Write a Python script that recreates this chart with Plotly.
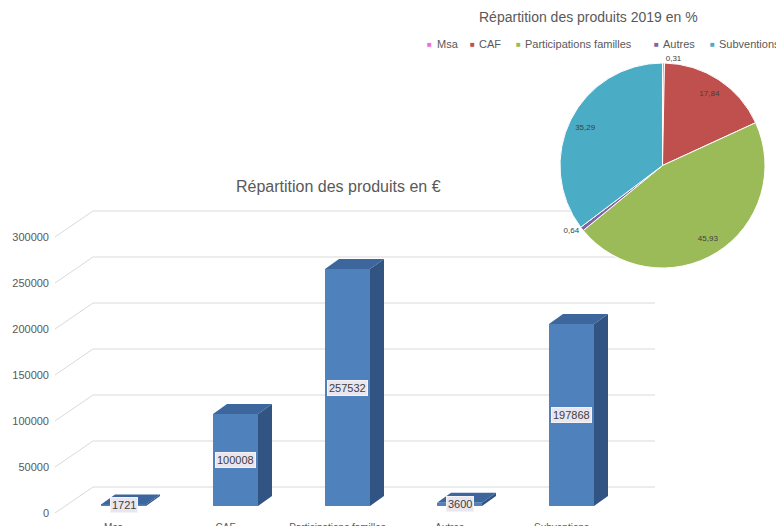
import plotly.graph_objects as go

# data
categories = ["Msa", "CAF", "Participations familles", "Autres", "Subventions"]
amounts = [1721, 100008, 257532, 3600, 197868]
y_ticks = [0, 50000, 100000, 150000, 200000, 250000, 300000]
pie_colors = ["#F06FD8", "#C0504D", "#9BBB59", "#8064A2", "#4BACC6"]

# the page body has an 8px margin, so the figure is shifted by that much
OFF = 8
W, H = 784, 526
FONT = "Liberation Sans, Arial, sans-serif"
GREY = "#595959"

def fx(p): return (p - OFF) / W          # window px -> paper x
def fy(p): return 1 - (p - OFF) / H      # window px -> paper y

# pseudo 3d geometry (pixels converted to axis units)
PX_CAT = 112.0                 # px between categories
PX_VAL = 276.0 / 300000        # px per euro
def dx(px): return px / PX_CAT
def dy(px): return px / PX_VAL

FLOOR_DX, FLOOR_DY = dx(38), dy(26)     # full floor depth
BAR_DX, BAR_DY = dx(14), dy(10)         # bar depth
BASE_DX, BASE_DY = dx(10), dy(7)        # front of bars behind floor front
BAR_W = dx(45)

x_min = (55 - 123.5) / PX_CAT
x_max = (655 - 123.5) / PX_CAT
y_max = (513 - OFF) / PX_VAL

fig = go.Figure()

# grid: diagonal on the side wall + horizontal line on the back wall (under the bars)
for t in y_ticks:
    fig.add_shape(type="path", xref="x", yref="y", layer="below",
                  path=f"M {x_min},{t} L {x_min + FLOOR_DX},{t + FLOOR_DY} L {x_max},{t + FLOOR_DY}",
                  line=dict(color="#D9D9D9", width=1))

idx = list(range(len(categories)))

# front faces
fig.add_trace(go.Bar(x=idx, y=amounts, base=BASE_DY, width=BAR_W,
                     marker=dict(color="#4F81BD", line=dict(width=0)),
                     hoverinfo="skip", showlegend=False))

# top and side faces of the bars
for i, v in zip(idx, amounts):
    l, r = i - BAR_W / 2, i + BAR_W / 2
    top = BASE_DY + v
    fig.add_trace(go.Scatter(
        x=[r, r, r + BAR_DX, r + BAR_DX, r], y=[BASE_DY, top, top + BAR_DY, BASE_DY + BAR_DY, BASE_DY],
        mode="lines", line=dict(width=0), fill="toself", fillcolor="#315483",
        hoverinfo="skip", showlegend=False))
    fig.add_trace(go.Scatter(
        x=[l, r, r + BAR_DX, l + BAR_DX, l], y=[top, top, top + BAR_DY, top + BAR_DY, top],
        mode="lines", line=dict(width=0), fill="toself", fillcolor="#3C669C",
        hoverinfo="skip", showlegend=False))

# value labels
for i, v in zip(idx, amounts):
    fig.add_annotation(x=i, y=BASE_DY + v / 2, xref="x", yref="y", text=str(v), showarrow=False,
                       xanchor="center", yanchor="middle",
                       font=dict(family=FONT, size=11, color="#404040"),
                       bgcolor="#E9E6EF", bordercolor="#F4F2F7", borderwidth=1, borderpad=1)

# pie: the disc, plus a transparent ring on top so the labels sit near the outer edge
total = sum(amounts)
pct_txt = [f"{a / total * 100:.2f}".replace(".", ",") for a in amounts]
pie_dom = dict(x=[fx(558), fx(767)], y=[fy(268), fy(63)])
fig.add_trace(go.Pie(
    labels=categories, values=amounts, textinfo="none",
    marker=dict(colors=pie_colors, line=dict(color="white", width=1)),
    sort=False, direction="clockwise", rotation=0, domain=pie_dom,
    hoverinfo="label+percent", showlegend=False))
fig.add_trace(go.Pie(
    labels=categories, values=amounts, text=pct_txt, textinfo="text", hole=0.68,
    textposition=["outside", "inside", "inside", "outside", "inside"],
    insidetextorientation="horizontal",
    textfont=dict(family=FONT, size=8, color="#404040"),
    marker=dict(colors=["rgba(0,0,0,0)"] * len(amounts), line=dict(width=0)),
    sort=False, direction="clockwise", rotation=0, domain=pie_dom,
    hoverinfo="skip", showlegend=False))

# legend of the pie (small squares)
leg_sym_x = [430, 472, 518, 656, 712]
leg_txt_x = [435, 477, 523, 661, 717]
for name, col, sx, tx in zip(categories, pie_colors, leg_sym_x, leg_txt_x):
    fig.add_annotation(x=fx(sx), y=fy(44), xref="paper", yref="paper", text="■",
                       showarrow=False, xanchor="center", yanchor="middle",
                       font=dict(family=FONT, size=8, color=col))
    fig.add_annotation(x=fx(tx), y=fy(44), xref="paper", yref="paper", text=name,
                       showarrow=False, xanchor="left", yanchor="middle",
                       font=dict(family=FONT, size=11, color=GREY))

# titles
fig.add_annotation(x=fx(588), y=fy(17), xref="paper", yref="paper",
                   text="Répartition des produits 2019 en %", showarrow=False,
                   xanchor="center", yanchor="middle",
                   font=dict(family=FONT, size=14, color=GREY))
fig.add_annotation(x=fx(338), y=fy(186), xref="paper", yref="paper",
                   text="Répartition des produits en €", showarrow=False,
                   xanchor="center", yanchor="middle",
                   font=dict(family=FONT, size=16, color=GREY))

fig.update_xaxes(domain=[fx(55), fx(655)], range=[x_min, x_max], automargin=False,
                 tickvals=[i - BASE_DX for i in idx], ticktext=categories,
                 showgrid=False, zeroline=False, showline=False, ticks="",
                 ticklabelstandoff=7,
                 tickfont=dict(family=FONT, size=10, color=GREY))
fig.update_yaxes(domain=[fy(513), fy(OFF)], range=[0, y_max], automargin=False,
                 tickvals=y_ticks, ticktext=[str(t) for t in y_ticks],
                 showgrid=False, zeroline=False, showline=False, ticks="",
                 ticklabelstandoff=5,
                 tickfont=dict(family=FONT, size=11, color=GREY))

fig.update_layout(width=W, height=H, margin=dict(l=0, r=0, t=0, b=0, pad=0),
                  paper_bgcolor="white", plot_bgcolor="rgba(0,0,0,0)",
                  font=dict(family=FONT), bargap=0)

fig.write_html("out.html")
